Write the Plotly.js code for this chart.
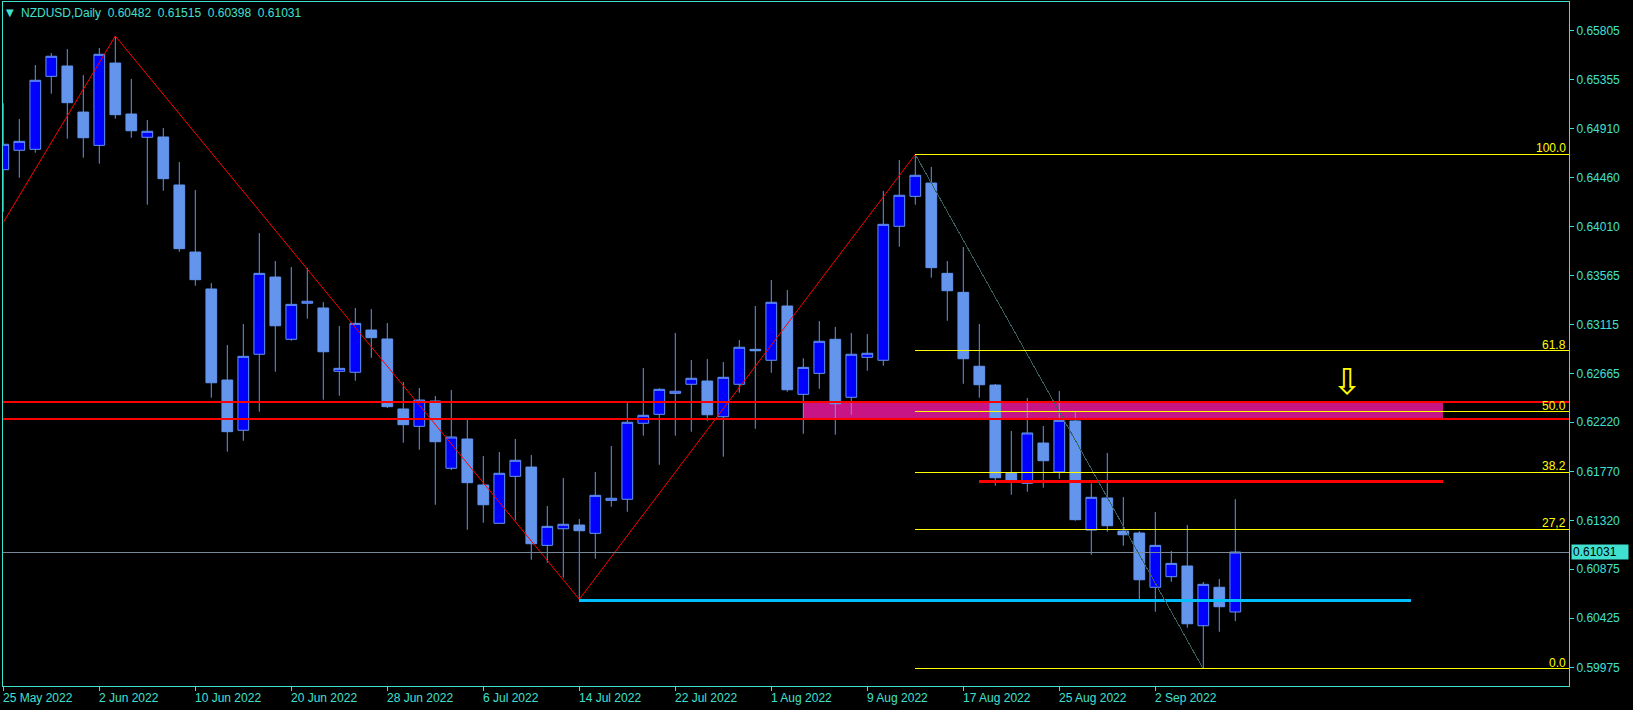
<!DOCTYPE html>
<html><head><meta charset="utf-8">
<script src="https://cdn.plot.ly/plotly-3.0.1.min.js"></script>
<style>html,body{margin:0;padding:0;background:#000;overflow:hidden}#chart{width:1633px;height:710px}
.shapelayer path{shape-rendering:crispEdges}</style>
</head><body><div id="chart"></div>
<script>
const dates = [
 '2022-05-25','2022-05-26','2022-05-27','2022-05-30','2022-05-31',
 '2022-06-01','2022-06-02','2022-06-03','2022-06-06','2022-06-07','2022-06-08','2022-06-09','2022-06-10',
 '2022-06-13','2022-06-14','2022-06-15','2022-06-16','2022-06-17','2022-06-20','2022-06-21','2022-06-22',
 '2022-06-23','2022-06-24','2022-06-27','2022-06-28','2022-06-29','2022-06-30',
 '2022-07-01','2022-07-04','2022-07-05','2022-07-06','2022-07-07','2022-07-08','2022-07-11','2022-07-12',
 '2022-07-13','2022-07-14','2022-07-15','2022-07-18','2022-07-19','2022-07-20','2022-07-21','2022-07-22',
 '2022-07-25','2022-07-26','2022-07-27','2022-07-28','2022-07-29',
 '2022-08-01','2022-08-02','2022-08-03','2022-08-04','2022-08-05','2022-08-08','2022-08-09','2022-08-10',
 '2022-08-11','2022-08-12','2022-08-15','2022-08-16','2022-08-17','2022-08-18','2022-08-19','2022-08-22',
 '2022-08-23','2022-08-24','2022-08-25','2022-08-26','2022-08-29','2022-08-30','2022-08-31',
 '2022-09-01','2022-09-02','2022-09-05','2022-09-06','2022-09-07','2022-09-08','2022-09-09'
];
const open = [
 0.64532,0.64710,0.64719,0.65387,0.65482,0.65060,0.64755,0.65509,0.65042,0.64829,
 0.64832,0.64392,0.63778,0.63440,0.62606,0.62146,0.62842,0.63549,0.62979,0.63309,
 0.63266,0.62686,0.62677,0.63064,0.62982,0.62341,0.62182,0.62414,0.61798,0.62066,
 0.61645,0.61294,0.61724,0.61809,0.61092,0.61244,0.61278,0.61202,0.61504,0.61514,
 0.62210,0.62292,0.62484,0.62567,0.62597,0.62270,0.62567,0.62887,0.62787,0.63284,
 0.62475,0.62667,0.62979,0.62448,0.62814,0.62787,0.64014,0.64288,0.64410,0.63583,
 0.63409,0.62732,0.62560,0.61754,0.61660,0.62029,0.61764,0.62231,0.61232,0.61526,
 0.61223,0.61205,0.60708,0.60805,0.60903,0.60356,0.60708,0.60482
];
const high = [
 0.65140,0.64996,0.65491,0.65601,0.65637,0.65399,0.65647,0.65756,0.65363,0.64987,
 0.64914,0.64603,0.64346,0.63494,0.62927,0.63119,0.63952,0.63696,0.63641,0.63632,
 0.63320,0.63101,0.63266,0.63256,0.63128,0.62588,0.62533,0.62460,0.62515,0.62258,
 0.61910,0.61947,0.62066,0.61919,0.61452,0.61709,0.61333,0.61764,0.62002,0.62396,
 0.62716,0.62530,0.63037,0.62789,0.62798,0.62771,0.62972,0.63284,0.63522,0.63430,
 0.62805,0.63146,0.63092,0.63037,0.63027,0.64337,0.64621,0.64672,0.64557,0.63696,
 0.63824,0.63119,0.62570,0.62139,0.62441,0.62185,0.62505,0.62316,0.61660,0.61938,
 0.61535,0.61223,0.61397,0.61040,0.61278,0.60756,0.60784,0.61515
];
const low = [
 0.64147,0.64459,0.64688,0.65228,0.64816,0.64642,0.64587,0.64999,0.64825,0.64212,
 0.64340,0.63781,0.63470,0.62444,0.61950,0.62050,0.62316,0.62682,0.62966,0.63168,
 0.62426,0.62462,0.62600,0.62810,0.62350,0.62032,0.61968,0.61464,0.61782,0.61235,
 0.61299,0.61290,0.61324,0.60960,0.60933,0.60796,0.60598,0.60970,0.61446,0.61400,
 0.62096,0.61830,0.62096,0.62133,0.62233,0.61904,0.62490,0.62160,0.62673,0.62499,
 0.62114,0.62526,0.62105,0.62288,0.62691,0.62737,0.63827,0.64212,0.63543,0.63149,
 0.62572,0.62444,0.61638,0.61556,0.61583,0.61620,0.61702,0.61318,0.61006,0.61217,
 0.61089,0.60598,0.60484,0.60759,0.60338,0.59960,0.60301,0.60398
];
const close = [
 0.64765,0.64792,0.65351,0.65571,0.65146,0.64825,0.65589,0.65036,0.64889,0.64884,
 0.64450,0.63809,0.63525,0.62581,0.62133,0.62823,0.63583,0.63103,0.63299,0.63327,
 0.62865,0.62713,0.63125,0.62994,0.62362,0.62197,0.62423,0.62041,0.62084,0.61666,
 0.61464,0.61752,0.61871,0.61107,0.61266,0.61285,0.61226,0.61550,0.61523,0.62219,
 0.62283,0.62521,0.62503,0.62622,0.62288,0.62631,0.62906,0.62874,0.63318,0.62517,
 0.62722,0.62961,0.62389,0.62842,0.62851,0.64032,0.64298,0.64481,0.63635,0.63424,
 0.62801,0.62563,0.61711,0.61690,0.62121,0.61867,0.62237,0.61327,0.61532,0.61272,
 0.61189,0.60777,0.61092,0.60927,0.60374,0.60735,0.60530,0.61031
];
const tickDates = ['2022-05-25','2022-06-02','2022-06-10','2022-06-20','2022-06-28','2022-07-06',
 '2022-07-14','2022-07-22','2022-08-01','2022-08-09','2022-08-17','2022-08-25','2022-09-02'];
const yTickVals = [0.65805,0.65355,0.64910,0.64460,0.64010,0.63565,0.63115,0.62665,0.62220,
 0.61770,0.61320,0.60875,0.60425,0.59975];
const yTickText = ['0.65805','0.65355','0.64910','0.64460','0.64010','0.63565','0.63115','0.62665',
 '0.62220','0.61770','0.61320','0.60875','0.60425','0.59975'];
const zigzagIdx = [0, 7, 36, 57];
const zigzagPrice = [0.64050, 0.65756, 0.60598, 0.64672];
const fibStartIdx = 57, fibEndIdx = 75, fibHigh = 0.64672, fibLow = 0.59960;
const fibRatios = [1.0, 0.618, 0.5, 0.382, 0.272, 0.0];
const fibLabels = ['100.0', '61.8', '50.0', '38.2', '27,2', '0.0'];
const zoneTop = 0.62405, zoneBottom = 0.62252, zoneStartIdx = 50, zoneEndIdx = 90;
const resistPrice = 0.61681, resistStartIdx = 61, resistEndIdx = 90;
const supportPrice = 0.60590, supportStartIdx = 36, supportEndIdx = 88;
const arrowIdx = 84, arrowPrice = 0.62597;
const symbolText = 'NZDUSD,Daily';

const FG = '#40E0D0';
const FONT = 'Liberation Sans, Arial, sans-serif';
const xRange = [-0.019, 97.856];
const yRange = [0.59804, 0.66068];
const idx = dates.map((d, i) => i);
const MONTHS = ['Jan','Feb','Mar','Apr','May','Jun','Jul','Aug','Sep','Oct','Nov','Dec'];
function fmtDate(s) { const p = s.split('-'); return (+p[2]) + ' ' + MONTHS[+p[1] - 1] + ' ' + p[0]; }
const tickIdx = tickDates.map(d => dates.indexOf(d));
const last = close.length - 1;

const traces = [
  {
    type: 'candlestick', x: idx, open: open, high: high, low: low, close: close,
    increasing: { line: { color: '#6495ED', width: 1 }, fillcolor: '#0000FF' },
    decreasing: { line: { color: '#6495ED', width: 1 }, fillcolor: '#6495ED' },
    whiskerwidth: 0, hoverinfo: 'none', showlegend: false
  },
  {
    type: 'scatter', mode: 'lines', x: zigzagIdx, y: zigzagPrice,
    line: { color: '#FF0000', width: 1 }, hoverinfo: 'none', showlegend: false
  }
];

const shapes = [
  { type: 'rect', xref: 'x', yref: 'y', x0: zoneStartIdx, x1: zoneEndIdx, y0: zoneBottom, y1: zoneTop,
    fillcolor: '#C71585', line: { width: 0 }, layer: 'below' },
  { type: 'line', xref: 'paper', yref: 'y', x0: 0, x1: 1, y0: close[last], y1: close[last],
    line: { color: '#778899', width: 1 } },
  { type: 'line', xref: 'paper', yref: 'y', x0: 0, x1: 1, y0: zoneTop, y1: zoneTop,
    line: { color: '#FF0000', width: 2 } },
  { type: 'line', xref: 'paper', yref: 'y', x0: 0, x1: 1, y0: zoneBottom, y1: zoneBottom,
    line: { color: '#FF0000', width: 2 } },
  { type: 'line', xref: 'x', yref: 'y', x0: resistStartIdx, x1: resistEndIdx, y0: resistPrice, y1: resistPrice,
    line: { color: '#FF0000', width: 3 } },
  { type: 'line', xref: 'x', yref: 'y', x0: supportStartIdx, x1: supportEndIdx, y0: supportPrice, y1: supportPrice,
    line: { color: '#00BFFF', width: 3 } },
  { type: 'line', xref: 'x', yref: 'y', x0: fibStartIdx, x1: fibEndIdx, y0: fibHigh, y1: fibLow,
    line: { color: '#3A5F5F', width: 1 } }
];
fibRatios.forEach(r => {
  const p = fibLow + r * (fibHigh - fibLow);
  shapes.push({ type: 'line', xref: 'x', yref: 'y', x0: fibStartIdx, x1: xRange[1], y0: p, y1: p,
    line: { color: '#FFFF00', width: 1 } });
});

const annotations = [];
annotations.push({ xref: 'paper', yref: 'paper', x: 0, y: 1, xanchor: 'left', yanchor: 'top',
  xshift: 1, yshift: -3, text: '\u25BC', showarrow: false, font: { family: 'DejaVu Sans', size: 10, color: FG } });
annotations.push({ xref: 'paper', yref: 'paper', x: 0, y: 1, xanchor: 'left', yanchor: 'top',
  xshift: 16, yshift: -2,
  text: symbolText + '\u00a0\u00a0' + [open[last], high[last], low[last], close[last]].map(v => v.toFixed(5)).join('\u00a0\u00a0'),
  showarrow: false, font: { family: FONT, size: 12, color: FG } });
fibRatios.forEach((r, k) => {
  const p = fibLow + r * (fibHigh - fibLow);
  annotations.push({ xref: 'paper', yref: 'y', x: 1, y: p, xanchor: 'right', yanchor: 'bottom',
    xshift: -1, yshift: -3, text: fibLabels[k], showarrow: false,
    font: { family: FONT, size: 12, color: '#FFFF00' } });
});
tickIdx.forEach((ti, k) => {
  annotations.push({ xref: 'x', yref: 'paper', x: ti, y: 0, xanchor: 'left', yanchor: 'middle',
    xshift: -2, yshift: -12, text: fmtDate(tickDates[k]), showarrow: false,
    font: { family: FONT, size: 12, color: FG } });
});
annotations.push({ xref: 'paper', yref: 'y', x: 1, y: close[last], xanchor: 'left', yanchor: 'middle',
  xshift: 2, text: close[last].toFixed(5), showarrow: false, bgcolor: FG, borderpad: 1,
  width: 54, height: 12, align: 'left', font: { family: FONT, size: 12, color: '#000000' } });
annotations.push({ xref: 'x', yref: 'y', x: arrowIdx, y: arrowPrice, xanchor: 'center', yanchor: 'middle',
  text: '\u21E9', showarrow: false, font: { family: 'DejaVu Sans', size: 36, color: '#FFFF00' } });

const layout = {
  width: 1633, height: 710,
  margin: { l: 3, r: 64, t: 2, b: 24, pad: 0 },
  paper_bgcolor: '#000000', plot_bgcolor: '#000000',
  showlegend: false, hovermode: false,
  boxgap: 0.33, boxgroupgap: 0,
  font: { family: FONT, size: 12, color: FG },
  xaxis: {
    type: 'linear', range: xRange, rangeslider: { visible: false },
    showgrid: false, zeroline: false, showline: true, mirror: true, linecolor: FG, linewidth: 1,
    tickvals: tickIdx, ticks: 'outside', ticklen: 4, tickcolor: FG, showticklabels: false, fixedrange: true
  },
  yaxis: {
    side: 'right', range: yRange, showgrid: false, zeroline: false, showline: true, mirror: true,
    linecolor: FG, linewidth: 1, tickvals: yTickVals, ticktext: yTickText, ticks: 'outside',
    ticklen: 4, tickcolor: FG, tickfont: { family: FONT, size: 12, color: FG }, fixedrange: true
  },
  shapes: shapes, annotations: annotations
};
Plotly.newPlot('chart', traces, layout, { displayModeBar: false, staticPlot: true });
</script></body></html>
